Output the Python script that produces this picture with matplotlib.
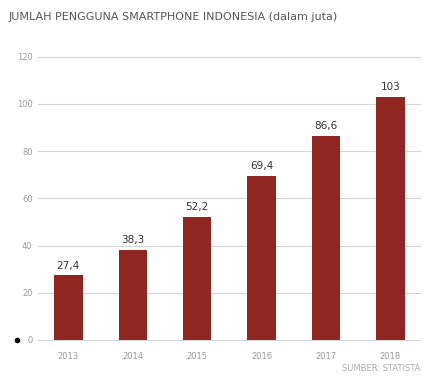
import matplotlib.pyplot as plt

years = ['2013', '2014', '2015', '2016', '2017', '2018']
users = [27.4, 38.3, 52.2, 69.4, 86.6, 103]
labels = ['27,4', '38,3', '52,2', '69,4', '86,6', '103']
yticks = [0, 20, 40, 60, 80, 100, 120]

fig = plt.figure(figsize=(4.23, 3.76), dpi=100)
ax = fig.add_axes([0.09, 0.096, 0.903, 0.753])

x = list(range(len(years)))
ax.bar(x, users, width=0.44, color='#8f2621', zorder=3)
for xi, v, lab in zip(x, users, labels):
    ax.text(xi, v + 2, lab, ha='center', va='bottom', fontsize=7.5, color='#333333')

ax.set_xlim(-0.47, 5.46)
ax.set_ylim(0, 120)
ax.set_xticks(x)
ax.set_xticklabels(years)
ax.set_yticks(yticks)
ax.set_yticklabels([str(t) for t in yticks])
for t in yticks:
    ax.axhline(t, color='#d5d5d5', lw=0.8, zorder=1, clip_on=False)

for s in ax.spines.values():
    s.set_visible(False)
ax.tick_params(axis='y', length=0, labelsize=6, colors='#9a9a9a', pad=4)
ax.tick_params(axis='x', length=0, labelsize=6, colors='#9a9a9a', pad=9)
ax.plot([-0.8], [0], 'o', color='black', ms=3, clip_on=False, zorder=5)

fig.text(0.02, 0.955, 'JUMLAH PENGGUNA SMARTPHONE INDONESIA (dalam juta)',
         fontsize=8, color='#555555', va='center')
fig.text(0.993, 0.012, 'SUMBER: STATISTA', fontsize=6, color='#aaaaaa', ha='right')

fig.savefig('out.png', dpi=100)
